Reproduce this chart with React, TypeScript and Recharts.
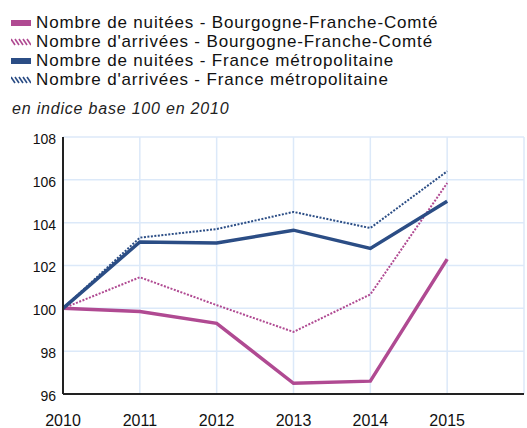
import { LineChart, Line, XAxis, YAxis, CartesianGrid } from 'recharts';

const years = [2010, 2011, 2012, 2013, 2014, 2015];
const nuiteesBFC = [100, 99.85, 99.3, 96.5, 96.6, 102.3];
const arriveesBFC = [100, 101.45, 100.15, 98.9, 100.65, 105.85];
const nuiteesFrance = [100, 103.1, 103.05, 103.65, 102.8, 105.0];
const arriveesFrance = [100, 103.3, 103.7, 104.5, 103.75, 106.4];
const yTicks = [96, 98, 100, 102, 104, 106, 108];

const PINK = '#b04a92';
const BLUE = '#2b4d85';

const series = [
  { key: 'nuiteesBFC', name: 'Nombre de nuitées - Bourgogne-Franche-Comté', color: PINK, dashed: false },
  { key: 'arriveesBFC', name: "Nombre d'arrivées - Bourgogne-Franche-Comté", color: PINK, dashed: true },
  { key: 'nuiteesFrance', name: 'Nombre de nuitées - France métropolitaine', color: BLUE, dashed: false },
  { key: 'arriveesFrance', name: "Nombre d'arrivées - France métropolitaine", color: BLUE, dashed: true },
];

const data = years.map((year, i) => ({
  year,
  nuiteesBFC: nuiteesBFC[i],
  arriveesBFC: arriveesBFC[i],
  nuiteesFrance: nuiteesFrance[i],
  arriveesFrance: arriveesFrance[i],
}));

function LegendIcon({ color, dashed }: { color: string; dashed: boolean }) {
  if (!dashed) {
    return (
      <svg width={20} height={8} style={{ display: 'block' }}>
        <rect x={0} y={1} width={20} height={6} fill={color} />
      </svg>
    );
  }
  return (
    <svg width={20} height={8} style={{ display: 'block' }}>
      {[0, 4, 8, 12, 16].map((x) => (
        <line key={x} x1={x} y1={1} x2={x + 4} y2={7} stroke={color} strokeWidth={1.6} />
      ))}
    </svg>
  );
}

export default function App() {
  return (
    <div
      style={{
        position: 'absolute',
        left: 0,
        top: 0,
        width: 527,
        height: 428,
        background: '#fff',
        fontFamily: '"Liberation Sans", Arial, sans-serif',
        overflow: 'hidden',
      }}
    >
      <div style={{ position: 'absolute', left: 11, top: 13 }}>
        {series.map((s) => (
          <div key={s.key} style={{ display: 'flex', alignItems: 'center', height: 19, fontSize: 17, color: '#111' }}>
            <LegendIcon color={s.color} dashed={s.dashed} />
            <span style={{ marginLeft: 5, whiteSpace: 'nowrap', letterSpacing: 0.85 }}>{s.name}</span>
          </div>
        ))}
      </div>
      <div
        style={{
          position: 'absolute',
          left: 12,
          top: 100,
          fontSize: 16,
          fontStyle: 'italic',
          color: '#222',
          whiteSpace: 'nowrap',
          letterSpacing: 0.8,
        }}
      >
        en indice base 100 en 2010
      </div>
      <div style={{ position: 'absolute', left: 0, top: 0 }}>
        <LineChart width={527} height={428} data={data} margin={{ top: 137, right: 3, bottom: 0, left: 0 }}>
          <CartesianGrid stroke="#dce9f9" strokeWidth={1.5} />
          <XAxis
            dataKey="year"
            type="number"
            domain={[2010, 2016]}
            ticks={years}
            height={34}
            tickSize={0}
            tickMargin={21}
            stroke="#222"
            strokeWidth={2}
            tick={{ fill: '#111', fontSize: 16 }}
          />
          <YAxis
            type="number"
            domain={[96, 108]}
            ticks={yTicks}
            width={63}
            tickSize={0}
            tickMargin={7}
            stroke="#222"
            strokeWidth={2}
            tick={{ fill: '#111', fontSize: 14, dy: 2 }}
          />
          {series.map((s) => (
            <Line
              key={s.key}
              dataKey={s.key}
              name={s.name}
              type="linear"
              stroke={s.color}
              strokeWidth={s.dashed ? 2 : 3.5}
              strokeDasharray={s.dashed ? '2 1.5' : undefined}
              dot={false}
              activeDot={false}
              isAnimationActive={false}
            />
          ))}
        </LineChart>
      </div>
    </div>
  );
}
